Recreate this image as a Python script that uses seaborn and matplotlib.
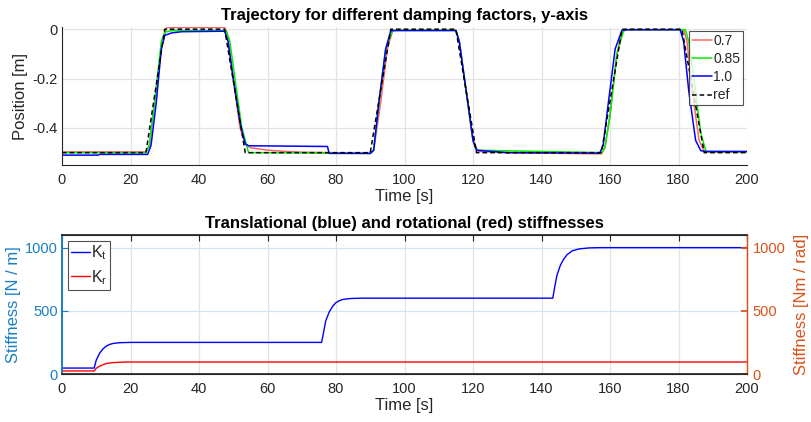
import numpy as np
import pandas as pd
import matplotlib
matplotlib.use("Agg")
import matplotlib.pyplot as plt
import seaborn as sns

# ---- data ----
t_ref = [0, 24.5, 30, 47.5, 53.5, 90, 96, 115, 121, 157.5, 163.5, 181, 187.5, 200]
y_ref = [-0.5, -0.5, 0, 0, -0.5, -0.5, 0, 0, -0.5, -0.5, 0, 0, -0.5, -0.5]

t_07 = [0, 24.5, 25.5, 27, 29, 30.5, 31, 47.5, 48.5, 50, 52, 53.5, 55, 60, 65, 70, 78, 90,
        91, 93, 95, 96.5, 97.5, 115, 116, 118, 120, 121.5, 130, 157.5, 158.5, 160, 162, 163.5,
        165, 181.5, 182.5, 184, 186, 187.5, 189, 200]
y_07 = [-0.497, -0.497, -0.47, -0.3, -0.08, 0.005, 0.007, 0.007, -0.05, -0.2, -0.4, -0.465,
        -0.48, -0.49, -0.495, -0.498, -0.5, -0.503, -0.49, -0.3, -0.08, -0.008, -0.005, -0.005,
        -0.05, -0.25, -0.45, -0.495, -0.5, -0.505, -0.48, -0.35, -0.1, -0.01, -0.002, -0.002,
        -0.05, -0.25, -0.45, -0.495, -0.498, -0.498]

t_085 = [0, 24.5, 25.5, 27, 29, 30, 32, 48, 49, 50.5, 52.5, 54.5, 56, 90, 91, 92.5, 94.5, 96.5,
         98, 115, 116, 118, 120, 121, 157.5, 158.5, 160, 162, 164, 165, 182, 183, 184.5, 186.5,
         188, 200]
y_085 = [-0.5, -0.5, -0.47, -0.3, -0.05, -0.012, -0.006, -0.006, -0.05, -0.2, -0.4, -0.5, -0.5,
         -0.503, -0.49, -0.3, -0.08, -0.006, -0.005, -0.005, -0.05, -0.25, -0.45, -0.49, -0.5,
         -0.48, -0.35, -0.1, -0.005, -0.002, -0.002, -0.05, -0.2, -0.42, -0.495, -0.497]

t_10 = [0, 10.5, 11, 25, 26, 27.5, 29, 30, 32, 35, 47.5, 48.5, 50, 52, 53.5, 54.5, 77.5, 78,
        90, 91, 92.5, 94.5, 96, 97, 115, 116, 118, 120, 121, 130, 157, 158, 159.5, 161.5, 163.5,
        165, 180.5, 181.5, 183, 185, 186.5, 188, 200]
y_10 = [-0.51, -0.51, -0.507, -0.507, -0.47, -0.3, -0.08, -0.025, -0.015, -0.01, -0.008, -0.05,
        -0.2, -0.38, -0.465, -0.472, -0.475, -0.503, -0.503, -0.49, -0.3, -0.08, -0.006, -0.005,
        -0.005, -0.05, -0.25, -0.45, -0.49, -0.5, -0.502, -0.47, -0.3, -0.08, -0.004, -0.002,
        -0.002, -0.05, -0.25, -0.45, -0.492, -0.495, -0.495]

t_kt = [0, 9.4, 10, 11, 12, 13, 14, 15, 17, 20, 75.8, 76.3, 77, 78, 79, 80, 81, 82, 84, 87,
        143.3, 143.8, 144.5, 145.5, 146.5, 147.5, 149, 151, 154, 157, 200]
y_kt = [47, 47, 110, 165, 200, 222, 235, 242, 248, 250, 250, 320, 420, 490, 535, 565, 580, 590,
        597, 600, 600, 680, 780, 860, 910, 945, 975, 990, 998, 1000, 1000]

t_kr = [0, 9.4, 10, 11, 12, 13, 14, 16, 19, 200]
y_kr = [24, 24, 45, 62, 74, 83, 88, 92, 95, 95]

top_xticks = list(range(0, 201, 20))
top_yticks = [-0.4, -0.2, 0]
bot_yticks = [0, 500, 1000]

# ---- style ----
sns.set_theme(style="white")
plt.rcParams['font.family'] = ['Liberation Sans', 'DejaVu Sans']
plt.rcParams['mathtext.fontset'] = 'custom'
plt.rcParams['mathtext.rm'] = 'Liberation Sans'
plt.rcParams['mathtext.it'] = 'Liberation Sans'

W, H = 811, 422
L, R = 62, 747
fig = plt.figure(figsize=(W/100, H/100), dpi=100)
ax1 = fig.add_axes([L/W, 1-165/H, (R-L)/W, (165-27)/H])
ax2 = fig.add_axes([L/W, 1-374/H, (R-L)/W, (374-235)/H])

TXT = '#262626'

def style_axes(ax):
    ax.grid(True, color='#e3e3e3', linewidth=0.9)
    ax.set_axisbelow(True)
    for s in ax.spines.values():
        s.set_color(TXT)
        s.set_linewidth(0.8)
    ax.tick_params(direction='in', length=4, width=0.8, labelsize=10.5, colors=TXT)
    ax.tick_params(axis='x', pad=6)
    ax.tick_params(axis='y', pad=3)

# top panel
series = [(t_07, y_07, '0.7', '#ff6464', '-'), (t_085, y_085, '0.85', '#00ee00', '-'),
          (t_10, y_10, '1.0', '#0000ff', '-'), (t_ref, y_ref, 'ref', 'black', (0, (3, 2)))]
for t, y, lab, c, ls in series:
    df = pd.DataFrame({'t': t, 'y': y})
    sns.lineplot(data=df, x='t', y='y', ax=ax1, color=c, linestyle=ls, linewidth=1.1, label=lab)
ax1.set_xlim(0, 200)
ax1.set_ylim(-0.55, 0.009)
ax1.set_xticks(top_xticks)
ax1.set_yticks(top_yticks)
ax1.set_yticklabels(['-0.4', '-0.2', '0'])
style_axes(ax1)
ax1.spines['top'].set_visible(False)
ax1.spines['right'].set_visible(False)
ax1.set_xlabel('Time [s]', fontsize=12, labelpad=1.5, color=TXT)
ax1.set_ylabel('Position [m]', fontsize=12, labelpad=3, color=TXT)
ax1.set_title('Trajectory for different damping factors, y-axis', fontsize=12,
              fontweight='bold', pad=5, color='black')
leg = ax1.legend(loc='upper right', fontsize=10, frameon=True, fancybox=False,
                 handlelength=1.4, handletextpad=0.1, borderpad=0.2, labelspacing=0.3,
                 borderaxespad=0.3)
leg.get_frame().set_edgecolor(TXT)
leg.get_frame().set_linewidth(0.8)

# bottom panel
blue_ax = '#1a7fc4'
orange_ax = '#D95319'
df_kt = pd.DataFrame({'t': t_kt, 'k': y_kt})
df_kr = pd.DataFrame({'t': t_kr, 'k': y_kr})
ax3 = ax2.twinx()
sns.lineplot(data=df_kt, x='t', y='k', ax=ax2, color='#0000ff', linewidth=1.0, label=r'K$_t$')
sns.lineplot(data=df_kr, x='t', y='k', ax=ax3, color='#ff0000', linewidth=1.0, label=r'K$_r$')
ax2.set_xlim(0, 200)
ax2.set_ylim(0, 1100)
ax3.set_ylim(0, 1100)
ax2.set_xticks(top_xticks)
ax2.set_yticks(bot_yticks)
ax3.set_yticks(bot_yticks)
style_axes(ax2)
ax2.tick_params(axis='x', top=True)
ax2.grid(True, axis='y', color='#d4e4f1', linewidth=0.9)
ax3.grid(False)
ax2.spines['left'].set_color(blue_ax)
ax2.spines['left'].set_linewidth(1.2)
ax3.spines['left'].set_color(blue_ax)
ax3.spines['left'].set_linewidth(1.2)
ax2.spines['right'].set_color(orange_ax)
ax3.spines['right'].set_color(orange_ax)
ax3.spines['right'].set_linewidth(1.0)
ax2.spines['bottom'].set_color('#444444')
ax2.tick_params(axis='y', colors=blue_ax, labelsize=10.5)
ax3.tick_params(axis='y', direction='in', length=4, colors=orange_ax, labelsize=10.5, pad=4)
ax2.set_xlabel('Time [s]', fontsize=12, labelpad=1.5, color=TXT)
ax2.set_ylabel('Stiffness [N / m]', fontsize=12, color=blue_ax, labelpad=3)
ax3.set_ylabel('Stiffness [Nm / rad]', fontsize=12, color=orange_ax, labelpad=6)
ax2.set_title('Translational (blue) and rotational (red) stiffnesses', fontsize=12,
              fontweight='bold', pad=5, color='black')
h1, l1 = ax2.get_legend_handles_labels()
h2, l2 = ax3.get_legend_handles_labels()
if ax3.get_legend():
    ax3.get_legend().remove()
leg2 = ax2.legend(h1 + h2, l1 + l2, loc='upper left', fontsize=11.5, frameon=True,
                  fancybox=False, handlelength=1.2, handletextpad=0.05, borderpad=0.2,
                  labelspacing=0.35, borderaxespad=0.35)
leg2.get_frame().set_edgecolor(TXT)
leg2.get_frame().set_linewidth(0.8)

fig.savefig('out.png', dpi=100)
